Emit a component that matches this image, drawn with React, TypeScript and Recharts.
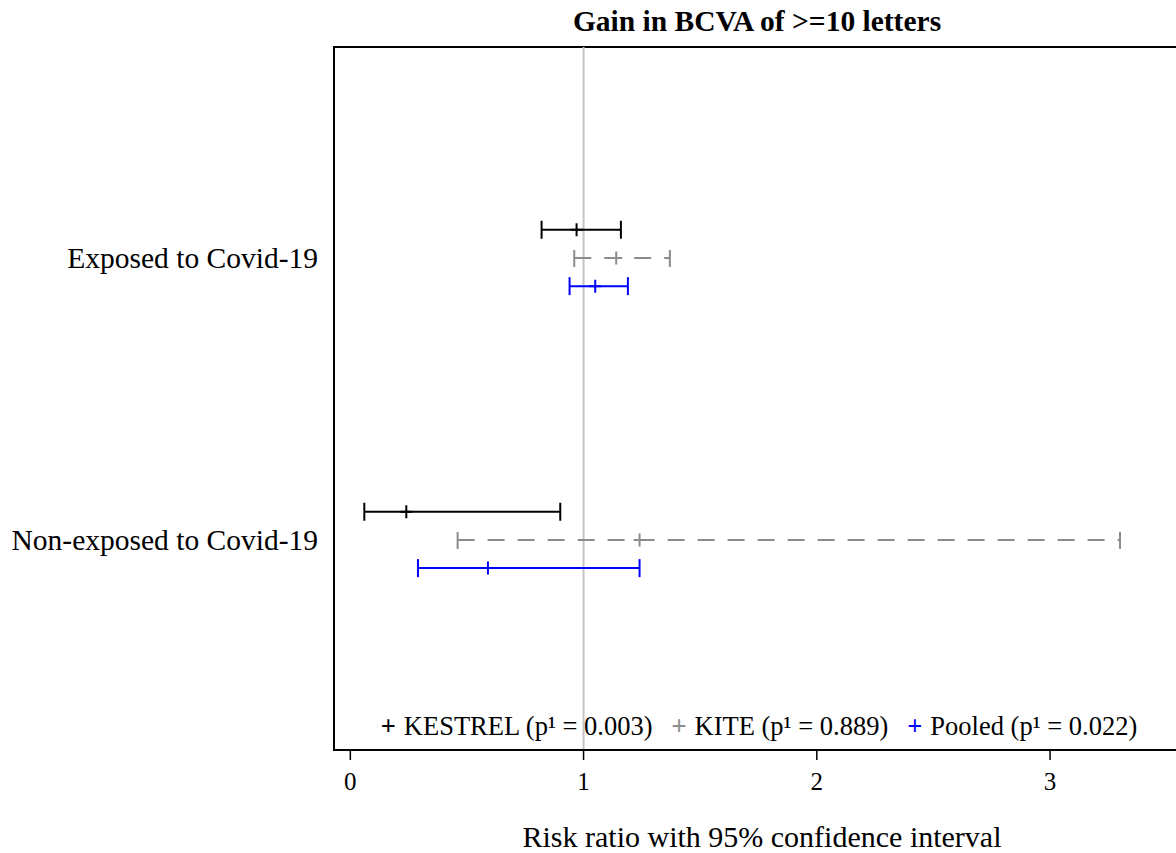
import React from "react";
import {
  ScatterChart,
  Scatter,
  XAxis,
  YAxis,
  ErrorBar,
  ReferenceLine,
  ReferenceArea,
  Legend,
} from "recharts";

const categories = ["Exposed to Covid-19", "Non-exposed to Covid-19"];
const xTicks = [0, 1, 2, 3];
const yTicks = [1, 2];

// risk ratio + 95% CI, one entry per category
const kestrelEst = [0.97, 0.24];
const kestrelLow = [0.82, 0.06];
const kestrelHigh = [1.16, 0.9];

const kiteEst = [1.14, 1.24];
const kiteLow = [0.96, 0.46];
const kiteHigh = [1.37, 3.3];

const pooledEst = [1.05, 0.59];
const pooledLow = [0.94, 0.29];
const pooledHigh = [1.19, 1.24];

const seriesNames = ["KESTREL (p¹ = 0.003)", "KITE (p¹ = 0.889)", "Pooled (p¹ = 0.022)"];
const rowOffsets = [-0.1, 0, 0.1];

const FONT = '"Liberation Serif", "Times New Roman", serif';
const X_DOMAIN = [-0.07, 3.6];
const Y_DOMAIN = [0.252, 2.745];

function buildRows(est: number[], low: number[], high: number[], offset: number) {
  return categories.map((_, i) => ({
    x: est[i],
    y: i + 1 + offset,
    err: [est[i] - low[i], high[i] - est[i]],
  }));
}

const kestrelRows = buildRows(kestrelEst, kestrelLow, kestrelHigh, rowOffsets[0]);
const kiteRows = buildRows(kiteEst, kiteLow, kiteHigh, rowOffsets[1]);
const pooledRows = buildRows(pooledEst, pooledLow, pooledHigh, rowOffsets[2]);

const plusShape = (color: string) => (props: any) => {
  const { cx, cy } = props;
  return (
    <path
      d={`M${cx - 6},${cy}H${cx + 6}M${cx},${cy - 6.5}V${cy + 6.5}`}
      stroke={color}
      strokeWidth={2}
      fill="none"
    />
  );
};

function LegendContent(props: any) {
  const items = props.payload || [];
  return (
    <div
      style={{
        display: "flex",
        justifyContent: "center",
        gap: 19,
        fontFamily: FONT,
        fontSize: 26.5,
        color: "#000",
      }}
    >
      {items.map((it: any) => (
        <span key={it.value} style={{ whiteSpace: "nowrap" }}>
          <span style={{ color: it.color, marginRight: 8, fontWeight: "bold" }}>+</span>
          {it.value}
        </span>
      ))}
    </div>
  );
}

export default function App() {
  return (
    <div
      style={{
        position: "absolute",
        left: 0,
        top: 0,
        width: 1176,
        height: 853,
        overflow: "hidden",
        background: "#fff",
        fontFamily: FONT,
      }}
    >
      <div
        style={{
          position: "absolute",
          top: 4,
          left: 334,
          width: 846,
          textAlign: "center",
          fontSize: 29.5,
          fontWeight: "bold",
          fontFamily: FONT,
          lineHeight: "34px",
        }}
      >
        Gain in BCVA of &gt;=10 letters
      </div>
      <ScatterChart width={1200} height={853} margin={{ top: 47, right: 10, bottom: 0, left: 0 }}>
        <XAxis
          type="number"
          dataKey="x"
          domain={X_DOMAIN}
          allowDataOverflow
          ticks={xTicks}
          tickSize={10}
          tickMargin={12}
          height={103}
          axisLine={{ stroke: "#000", strokeWidth: 2 }}
          tickLine={{ stroke: "#000", strokeWidth: 1.5 }}
          tick={{ fill: "#000", fontSize: 25, fontFamily: FONT }}
          label={{
            value: "Risk ratio with 95% confidence interval",
            position: "insideBottom",
            offset: 6,
            fill: "#000",
            fontSize: 30,
            fontFamily: FONT,
          }}
        />
        <YAxis
          type="number"
          dataKey="y"
          domain={Y_DOMAIN}
          allowDataOverflow
          reversed
          ticks={yTicks}
          tickFormatter={(v: number) => categories[v - 1]}
          width={334}
          tickLine={false}
          tickSize={0}
          tickMargin={16}
          axisLine={{ stroke: "#000", strokeWidth: 2 }}
          tick={{ fill: "#000", fontSize: 29.5, fontFamily: FONT }}
        />
        <ReferenceArea
          x1={X_DOMAIN[0]}
          x2={X_DOMAIN[1]}
          y1={Y_DOMAIN[0]}
          y2={Y_DOMAIN[1]}
          fill="none"
          stroke="#000"
          strokeWidth={2}
          ifOverflow="visible"
        />
        <ReferenceLine x={1} stroke="#c4c4c4" strokeWidth={2} />
        <Scatter
          name={seriesNames[0]}
          data={kestrelRows}
          fill="#000"
          shape={plusShape("#000")}
          isAnimationActive={false}
        >
          <ErrorBar dataKey="err" direction="x" width={9} stroke="#000" strokeWidth={2} isAnimationActive={false} />
        </Scatter>
        <Scatter
          name={seriesNames[1]}
          data={kiteRows}
          fill="#8c8c8c"
          shape={plusShape("#8c8c8c")}
          isAnimationActive={false}
        >
          <ErrorBar
            dataKey="err"
            direction="x"
            width={9}
            stroke="#8c8c8c"
            strokeWidth={2}
            strokeDasharray="17 13"
            isAnimationActive={false}
          />
        </Scatter>
        <Scatter
          name={seriesNames[2]}
          data={pooledRows}
          fill="#0000ff"
          shape={plusShape("#0000ff")}
          isAnimationActive={false}
        >
          <ErrorBar dataKey="err" direction="x" width={9} stroke="#0000ff" strokeWidth={2} isAnimationActive={false} />
        </Scatter>
        <Legend
          layout="horizontal"
          verticalAlign="middle"
          align="center"
          content={<LegendContent />}
          wrapperStyle={{ top: 711, bottom: "auto", left: 336, width: 846 }}
        />
      </ScatterChart>
    </div>
  );
}
